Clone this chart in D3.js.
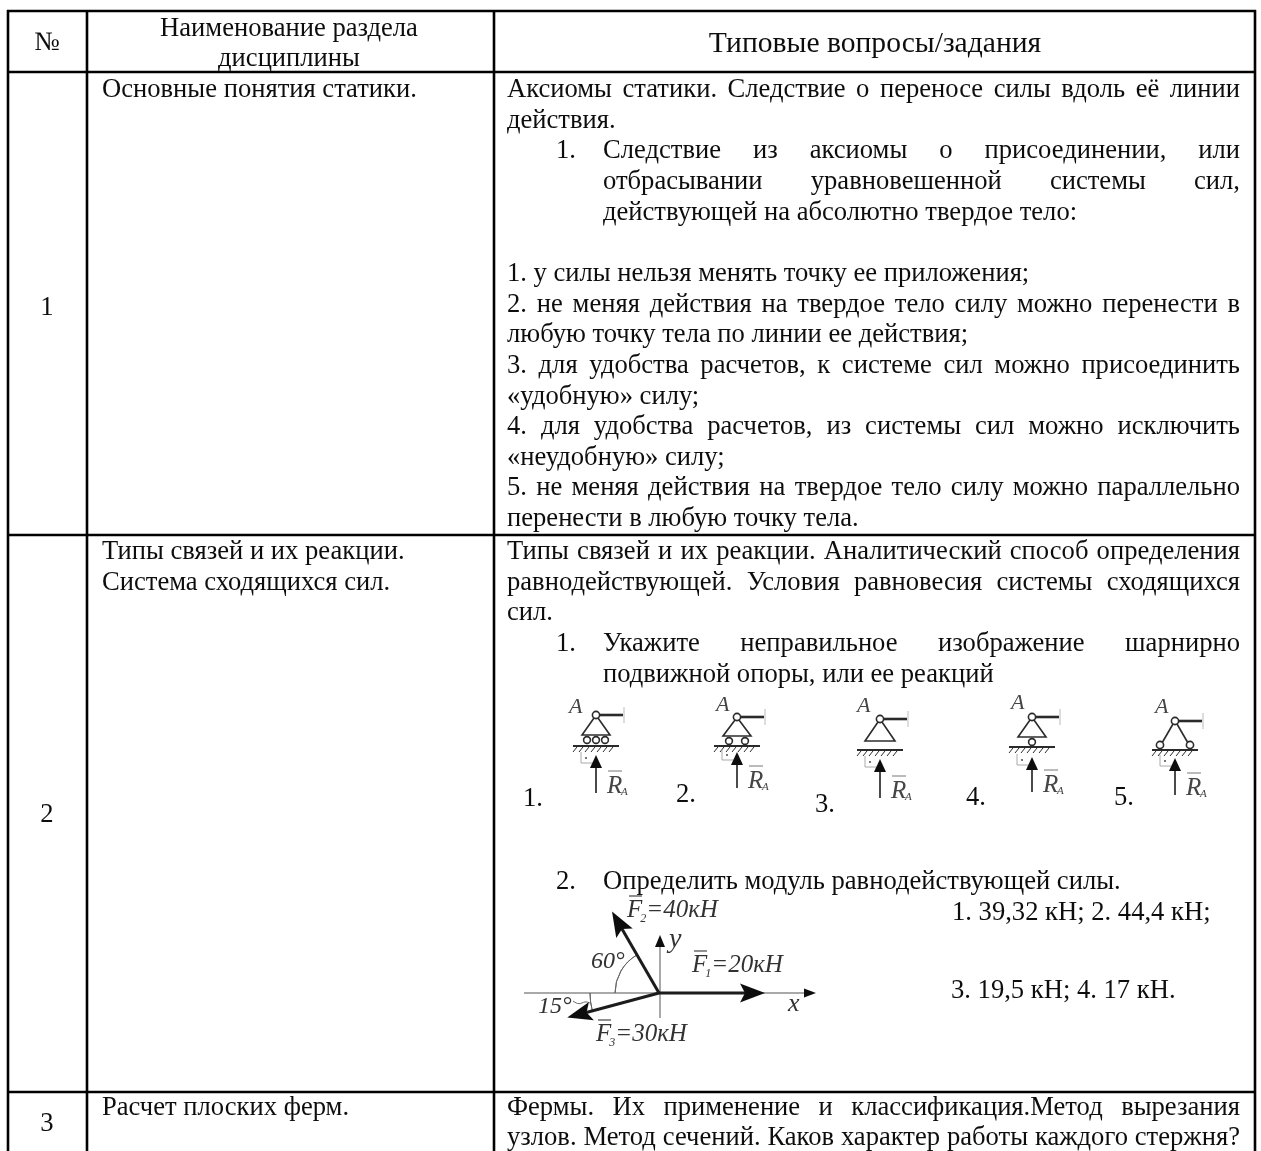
<!DOCTYPE html>
<html>
<head>
<meta charset="utf-8">
<script src="https://cdn.jsdelivr.net/npm/d3@7"></script>
<style>
  html, body { margin: 0; background: #fff; }
  svg { display: block; }
  text { font-family: "Liberation Serif", serif; fill: #111; }
</style>
</head>
<body>
<script>
// table content
const headers = ['№', 'Наименование раздела', 'дисциплины', 'Типовые вопросы/задания'];
const rowNumbers = ['1', '2', '3'];
const sectionNames = [
  ['Основные понятия статики.'],
  ['Типы связей и их реакции.', 'Система сходящихся сил.'],
  ['Расчет плоских ферм.']
];

const row1Lines = [
  'Аксиомы статики. Следствие о переносе силы вдоль её линии',
  'действия.'
];
const row1List = [
  'Следствие из аксиомы о присоединении, или',
  'отбрасывании уравновешенной системы сил,',
  'действующей на абсолютно твердое тело:'
];
const row1Answers = [
  '1. у силы нельзя менять точку ее приложения;',
  '2. не меняя действия на твердое тело силу можно перенести в',
  'любую точку тела по линии ее действия;',
  '3. для удобства расчетов, к системе сил можно присоединить',
  '«удобную» силу;',
  '4. для удобства расчетов, из системы сил можно исключить',
  '«неудобную» силу;',
  '5. не меняя действия на твердое тело силу можно параллельно',
  'перенести в любую точку тела.'
];
const row2Lines = [
  'Типы связей и их реакции. Аналитический способ определения',
  'равнодействующей. Условия равновесия системы сходящихся',
  'сил.'
];
const row2List = [
  'Укажите неправильное изображение шарнирно',
  'подвижной опоры, или ее реакций'
];
const row2Second = 'Определить модуль равнодействующей силы.';
const row2Choices = ['1. 39,32 кН; 2. 44,4 кН;', '3. 19,5 кН; 4. 17 кН.'];
const row3Lines = [
  'Фермы. Их применение и классификация.Метод вырезания',
  'узлов. Метод сечений. Каков характер работы каждого стержня?'
];

// the five support sketches
const supportLabels = ['1.', '2.', '3.', '4.', '5.'];
const supportKinds = ['rollers3', 'rollers2', 'fixed', 'roller1', 'links'];

// force sketch: angle in degrees, label
const forceAngles = [0, 120, 195];
const forceLengths = [106, 94, 95];
const forceNames = ['1', '2', '3'];
const forceValues = ['=20кН', '=40кН', '=30кН'];

const width = 1261, height = 1151;
const svg = d3.select('body').append('svg').attr('width', width).attr('height', height);

const defs = svg.append('defs');
defs.append('filter').attr('id', 'soft').append('feGaussianBlur').attr('stdDeviation', 0.5);
defs.append('filter').attr('id', 'softText').append('feGaussianBlur').attr('stdDeviation', 0.3);

// grid
const colX = [8, 87, 494, 1255];
const rowY = [11, 72, 535, 1092];
const fs = 26.6;
const lineH = 30.65;

const grid = svg.append('g').attr('stroke', '#000').attr('stroke-width', 2.6);
colX.forEach(x => grid.append('line').attr('x1', x).attr('x2', x).attr('y1', rowY[0] - 1).attr('y2', height));
rowY.forEach(y => grid.append('line').attr('x1', colX[0] - 1).attr('x2', colX[3] + 1).attr('y1', y).attr('y2', y));

const textG = svg.append('g').attr('font-size', fs).attr('filter', 'url(#softText)');

// plain line of text
function put(str, x, y, anchor, size) {
  return textG.append('text').attr('x', x).attr('y', y)
    .attr('text-anchor', anchor || 'start')
    .attr('font-size', size || fs)
    .text(str);
}

// justified line: stretch the word gaps up to the right edge
function putJustified(str, x, y, right) {
  const t = put(str, x, y);
  const gaps = str.split(' ').length - 1;
  if (gaps > 0) {
    const extra = (right - x - t.node().getComputedTextLength()) / gaps;
    t.attr('word-spacing', extra);
  }
  return t;
}

const textL = 507, textR = 1240, listL = 603, numL = 556;
const baseline = d3.scaleLinear().domain([0, 1]).range([0, lineH]);

// header
put(headers[0], 47, 50, 'middle');
put(headers[1], 289, 36, 'middle');
put(headers[2], 289, 66, 'middle');
put(headers[3], 875, 52, 'middle', 29.6);

// left columns
put(rowNumbers[0], 47, 315, 'middle');
put(rowNumbers[1], 47, 822, 'middle');
put(rowNumbers[2], 47, 1131, 'middle');
sectionNames[0].forEach((s, i) => put(s, 102, 97 + baseline(i)));
sectionNames[1].forEach((s, i) => put(s, 102, 559 + baseline(i)));
sectionNames[2].forEach((s, i) => put(s, 102, 1115 + baseline(i)));

// row 1
const r1 = 97;
putJustified(row1Lines[0], textL, r1, textR);
put(row1Lines[1], textL, r1 + baseline(1));
put('1.', numL, r1 + baseline(2));
putJustified(row1List[0], listL, r1 + baseline(2), textR);
putJustified(row1List[1], listL, r1 + baseline(3), textR);
put(row1List[2], listL, r1 + baseline(4));
row1Answers.forEach((s, i) => {
  const y = r1 + baseline(6 + i);
  if (i % 2 === 1) putJustified(s, textL, y, textR);
  else put(s, textL, y);
});

// row 2
const r2 = 559;
putJustified(row2Lines[0], textL, r2, textR);
putJustified(row2Lines[1], textL, r2 + baseline(1), textR);
put(row2Lines[2], textL, r2 + baseline(2));
put('1.', numL, r2 + baseline(3));
putJustified(row2List[0], listL, r2 + baseline(3), textR);
put(row2List[1], listL, r2 + baseline(4));

put('2.', numL, 889);
put(row2Second, listL, 889);
put(row2Choices[0], 952, 920);
put(row2Choices[1], 951, 998);

// row 3
putJustified(row3Lines[0], textL, 1115, textR);
putJustified(row3Lines[1], textL, 1145, textR);

// support sketch layout, all offsets from the hinge
const sketchInk = '#2b2b2b';
const hingeXs = [596, 737, 880, 1032, 1175];
const hingeYs = [715, 717, 719, 717, 721];
const groundYs = [31, 29, 31, 30, 29];
const bodyYs = [20, 19, 22, 20, 24];
const tipYs = [40, 35, 40, 40, 37];
const footYs = [78, 71, 79, 75, 74];
const letterAs = [[-27, -2], [-21, -6], [-23, -7], [-21, -8], [-20, -8]];
const labelXs = [523, 676, 815, 966, 1114];
const labelYs = [806, 802, 812, 805, 805];

function drawSupport(kind, i) {
  const g = svg.append('g').attr('filter', 'url(#soft)')
    .attr('transform', `translate(${hingeXs[i]},${hingeYs[i]})`)
    .attr('stroke', sketchInk).attr('fill', 'none').attr('stroke-width', 1.6);
  const base = groundYs[i], h = bodyYs[i], tip = tipYs[i], foot = footYs[i];

  // beam and its end tick
  g.append('line').attr('x1', 3).attr('x2', 27).attr('y1', 0).attr('y2', 0).attr('stroke-width', 2.6);
  g.append('line').attr('x1', 28).attr('x2', 28).attr('y1', -8).attr('y2', 8).attr('stroke', '#bbb').attr('stroke-width', 1);

  // triangle body
  if (kind === 'links') {
    g.append('line').attr('x1', -2).attr('y1', 3).attr('x2', -13).attr('y2', 22);
    g.append('line').attr('x1', 2).attr('y1', 3).attr('x2', 13).attr('y2', 22);
    [-15, 15].forEach(c => g.append('circle').attr('cx', c).attr('cy', h).attr('r', 3.6).attr('fill', '#fff'));
  } else {
    const half = kind === 'fixed' ? 15 : 14;
    g.append('path').attr('d', d3.line()([[-2, 3], [-half, h], [half, h], [2, 3]]));
    const rollers = { rollers3: [-9, 0, 9], rollers2: [-8, 8], roller1: [0] }[kind] || [];
    rollers.forEach(c => g.append('circle').attr('cx', c).attr('cy', h + 5).attr('r', 3.4).attr('fill', '#fff'));
  }
  g.append('circle').attr('r', 3.6).attr('fill', '#fff');

  // ground and hatching
  g.append('line').attr('x1', -23).attr('x2', 23).attr('y1', base).attr('y2', base).attr('stroke-width', 1.8);
  d3.range(-19, 23, 6).forEach(x => g.append('line')
    .attr('x1', x).attr('y1', base + 1).attr('x2', x - 4).attr('y2', base + 6)
    .attr('stroke-width', 1));

  // right angle mark
  g.append('path').attr('d', d3.line()([[-15, tip - 3], [-15, tip + 8], [-3, tip + 8]]))
    .attr('stroke', '#aaa').attr('stroke-width', 1);
  g.append('circle').attr('cx', -10).attr('cy', tip + 3).attr('r', 0.9).attr('fill', '#333').attr('stroke', 'none');

  // reaction arrow
  g.append('line').attr('x1', 0).attr('x2', 0).attr('y1', tip + 8).attr('y2', foot).attr('stroke-width', 1.7);
  g.append('path').attr('d', d3.line()([[0, tip], [-6, tip + 13], [6, tip + 13]]) + 'Z')
    .attr('fill', '#111').attr('stroke', 'none');

  // letters
  const it = g.append('g').attr('stroke', 'none');
  it.append('text').attr('x', letterAs[i][0]).attr('y', letterAs[i][1]).attr('font-size', 22)
    .attr('font-style', 'italic').style('fill', '#444').text('A');
  it.append('text').attr('x', 11).attr('y', foot).attr('font-size', 25)
    .attr('font-style', 'italic').style('fill', '#444').text('R');
  it.append('text').attr('x', 25).attr('y', foot + 2).attr('font-size', 11)
    .attr('font-style', 'italic').style('fill', '#444').text('A');
  g.append('line').attr('x1', 12).attr('x2', 26).attr('y1', foot - 22).attr('y2', foot - 22)
    .attr('stroke', '#777').attr('stroke-width', 1);
}
supportKinds.forEach(drawSupport);
supportLabels.forEach((s, i) => put(s, labelXs[i], labelYs[i]));

// force sketch
const cx = 659, cy = 993;
const fg = svg.append('g').attr('filter', 'url(#soft)').attr('transform', `translate(${cx},${cy})`)
  .attr('stroke', sketchInk).attr('fill', 'none');

// axes
fg.append('line').attr('x1', -135).attr('x2', 148).attr('y1', 0).attr('y2', 0).attr('stroke', '#555').attr('stroke-width', 1);
fg.append('line').attr('x1', 1).attr('x2', 1).attr('y1', 25).attr('y2', -50).attr('stroke', '#555').attr('stroke-width', 1);
fg.append('path').attr('d', d3.line()([[157, 0], [145, -4.5], [145, 4.5]]) + 'Z').attr('fill', '#111').attr('stroke', 'none');
fg.append('path').attr('d', d3.line()([[1, -58], [-4, -46], [6, -46]]) + 'Z').attr('fill', '#111').attr('stroke', 'none');

// angle arcs
fg.append('path').attr('d', d3.arc()({ innerRadius: 44, outerRadius: 44, startAngle: -Math.PI / 2, endAngle: -Math.PI / 6 }))
  .attr('stroke', '#666').attr('stroke-width', 1);
fg.append('path').attr('d', d3.arc()({ innerRadius: 69, outerRadius: 69, startAngle: -Math.PI / 2, endAngle: -Math.PI / 2 - Math.PI / 12 }))
  .attr('stroke', '#666').attr('stroke-width', 1);
fg.append('path').attr('d', d3.line().curve(d3.curveBasis)([[-86, 8], [-80, 12], [-74, 8], [-69, 10]]))
  .attr('stroke', '#666').attr('stroke-width', 1);

// force arrows from the angle table
const rad = d3.scaleLinear().domain([0, 360]).range([0, 2 * Math.PI]);
forceAngles.forEach((a, i) => {
  const dx = Math.cos(rad(a)), dy = -Math.sin(rad(a));
  const L = forceLengths[i];
  fg.append('line').attr('x1', 0).attr('y1', 0).attr('x2', dx * (L - 12)).attr('y2', dy * (L - 12)).attr('stroke-width', 3).attr('stroke', '#1c1c1c');
  const bx = dx * (L - 25), by = dy * (L - 25);
  fg.append('path')
    .attr('d', d3.line()([[dx * L, dy * L], [bx - dy * 9.5, by + dx * 9.5], [dx * (L - 20), dy * (L - 20)], [bx + dy * 9.5, by - dx * 9.5]]) + 'Z')
    .attr('fill', '#111').attr('stroke', 'none');
});

// sketch labels
const fLabelX = [692, 627, 596];
const fLabelY = [972, 917, 1041];
const lab = svg.append('g').attr('filter', 'url(#soft)').attr('font-size', 25);
const labText = (x, y, str, size) => lab.append('text').attr('x', x).attr('y', y)
  .attr('font-style', 'italic').attr('font-size', size || 25).style('fill', '#333').text(str);
forceNames.forEach((n, i) => {
  const t = labText(fLabelX[i], fLabelY[i], '');
  t.append('tspan').text('F');
  t.append('tspan').attr('font-size', 12).attr('dy', 5).attr('dx', -2).text(n);
  t.append('tspan').attr('dy', -5).text(forceValues[i]);
  lab.append('line').attr('x1', fLabelX[i] + 2).attr('x2', fLabelX[i] + 15).attr('y1', fLabelY[i] - 21).attr('y2', fLabelY[i] - 21)
    .attr('stroke', '#444').attr('stroke-width', 1.2);
});
labText(591, 968, '60°', 24);
labText(538, 1013, '15°', 24);
labText(669, 947, 'y', 28);
labText(788, 1011, 'x', 26);
</script>
</body>
</html>
